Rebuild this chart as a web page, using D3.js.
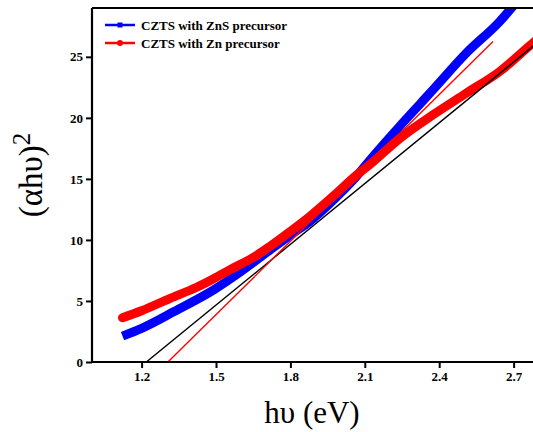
<!DOCTYPE html>
<html>
<head>
<meta charset="utf-8">
<script src="https://cdn.jsdelivr.net/npm/d3@7"></script>
<style>
  html, body { margin: 0; padding: 0; background: #fff; }
  svg { display: block; }
  text { font-family: "Liberation Serif", "Times New Roman", serif; }
</style>
</head>
<body>
<svg id="chart" width="533" height="432"></svg>
<script>
// ---- data ----
const seriesNames = ["CZTS with ZnS precursor", "CZTS with Zn precursor"];
const seriesColors = ["#0000ff", "#ff0000"];

const hvZnS  = [1.123, 1.20, 1.333, 1.494, 1.60, 1.716, 1.80, 1.877, 1.985, 2.066, 2.119, 2.24, 2.321, 2.375, 2.509, 2.644, 2.70];
const ahvZnS = [2.12, 2.75, 4.15, 5.95, 7.4, 9.15, 10.4, 11.5, 13.5, 15.2, 16.5, 19.3, 21.1, 22.3, 25.3, 27.9, 29.2];

const hvZn   = [1.123, 1.20, 1.313, 1.42, 1.494, 1.56, 1.656, 1.716, 1.80, 1.877, 1.985, 2.066, 2.119, 2.24, 2.375, 2.509, 2.644, 2.777, 2.80];
const ahvZn  = [3.63, 4.2, 5.2, 6.1, 6.86, 7.6, 8.63, 9.45, 10.7, 11.9, 13.8, 15.3, 16.15, 18.3, 20.25, 22.02, 23.8, 26.12, 26.5];

// tangent (linear fit) lines: endpoints
const fitBlackX = [1.219, 2.80];
const fitBlackY = [0, 26.23];
const fitRedX   = [1.306, 2.617];
const fitRedY   = [0, 26.25];

const xTicks = [1.2, 1.5, 1.8, 2.1, 2.4, 2.7];
const yTicks = [0, 5, 10, 15, 20, 25];
const xDomain = [1.0, 2.8];
const yDomain = [0, 29];

// ---- drawing ----
const svg = d3.select("#chart");
const pL = 92, pT = 8, pB = 362, pR = 538.4;

const x = d3.scaleLinear().domain(xDomain).range([pL, pR]);
const y = d3.scaleLinear().domain(yDomain).range([pB, pT]);

svg.append("defs").append("clipPath").attr("id", "plotClip")
  .append("rect").attr("x", pL).attr("y", pT)
  .attr("width", pR - pL).attr("height", pB - pT);

const plot = svg.append("g").attr("clip-path", "url(#plotClip)");

const line = d3.line().x(d => x(d[0])).y(d => y(d[1])).curve(d3.curveMonotoneX);
const straight = d3.line().x(d => x(d[0])).y(d => y(d[1]));

const zip = (a, b) => a.map((v, i) => [v, b[i]]);

// data curves (blue first, red drawn over it)
plot.append("path").datum(zip(hvZnS, ahvZnS))
  .attr("d", line).attr("fill", "none")
  .attr("stroke", seriesColors[0]).attr("stroke-width", 9)
  .attr("stroke-linecap", "butt");

plot.append("path").datum(zip(hvZn, ahvZn))
  .attr("d", line).attr("fill", "none")
  .attr("stroke", seriesColors[1]).attr("stroke-width", 9)
  .attr("stroke-linecap", "round");

// fit lines
plot.append("path").datum(zip(fitBlackX, fitBlackY))
  .attr("d", straight).attr("fill", "none")
  .attr("stroke", "#000").attr("stroke-width", 1.4);
plot.append("path").datum(zip(fitRedX, fitRedY))
  .attr("d", straight).attr("fill", "none")
  .attr("stroke", "#ff0000").attr("stroke-width", 1.4);

// axes
const xAxis = d3.axisBottom(x).tickValues(xTicks).tickFormat(d3.format(".1f")).tickSizeInner(6).tickSizeOuter(0).tickPadding(4);
const yAxis = d3.axisLeft(y).tickValues(yTicks).tickFormat(d3.format("d")).tickSizeInner(6).tickSizeOuter(0).tickPadding(3);

const gx = svg.append("g").attr("transform", `translate(0,${pB})`).call(xAxis);
const gy = svg.append("g").attr("transform", `translate(${pL},0)`).call(yAxis);

[gx, gy].forEach(g => {
  g.attr("font-family", null);
  g.select(".domain").attr("stroke", "#000").attr("stroke-width", 2.2);
  g.selectAll(".tick line").attr("stroke", "#000").attr("stroke-width", 2);
  g.selectAll(".tick text").attr("fill", "#000")
    .style("font-family", '"Liberation Serif", serif')
    .style("font-size", "13px").style("font-weight", "700");
});
gx.select(".domain").attr("d", `M${pL},0H${pR}`);
gy.select(".domain").attr("d", `M0,${pB}V${pT}`);

// top frame line
svg.append("line").attr("x1", pL).attr("x2", pR).attr("y1", pT).attr("y2", pT)
  .attr("stroke", "#000").attr("stroke-width", 2.2);

// legend
const legend = svg.append("g");
const legY = [25, 43];
seriesNames.forEach((name, i) => {
  const g = legend.append("g");
  g.append("line").attr("x1", 105).attr("x2", 135).attr("y1", legY[i]).attr("y2", legY[i])
    .attr("stroke", seriesColors[i]).attr("stroke-width", 2.5);
  if (i === 0) {
    g.append("rect").attr("x", 117.5).attr("y", legY[i] - 2.5).attr("width", 5).attr("height", 5)
      .attr("fill", seriesColors[i]);
  } else {
    g.append("circle").attr("cx", 120).attr("cy", legY[i]).attr("r", 3).attr("fill", seriesColors[i]);
  }
  g.append("text").attr("x", 141).attr("y", legY[i] + 4.5)
    .style("font-size", "13px").style("font-weight", "700").attr("fill", "#000")
    .text(name);
});

// axis titles
svg.append("text").attr("x", 312).attr("y", 423).attr("text-anchor", "middle")
  .style("font-size", "31px").attr("fill", "#000").text("hυ (eV)");

const yl = svg.append("text").attr("transform", "translate(42,175) rotate(-90)")
  .attr("text-anchor", "middle").style("font-size", "33px").attr("fill", "#000");
yl.append("tspan").text("(αhυ)");
yl.append("tspan").attr("dy", -12).style("font-size", "25px").text("2");
</script>
</body>
</html>
